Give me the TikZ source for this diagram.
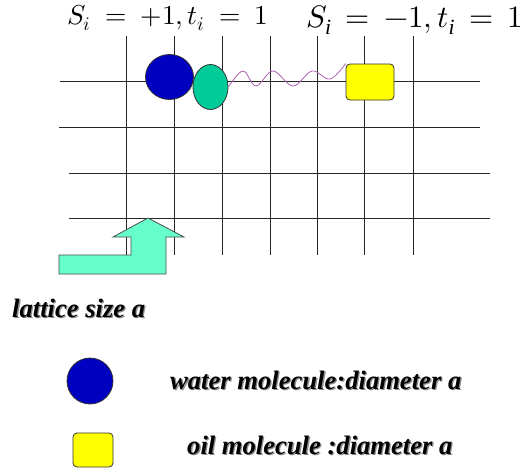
\documentclass[tikz,border=0pt]{standalone}
\usetikzlibrary{shapes.geometric}
\usepackage{fontspec}
\setmainfont{Liberation Serif}
\usepackage{unicode-math}
\setmathfont{Latin Modern Math}
\definecolor{water}{HTML}{0000C0}
\definecolor{head}{HTML}{00CC99}
\definecolor{oil}{HTML}{FFFF00}
\definecolor{arrowc}{HTML}{66FFCC}
\definecolor{wave}{HTML}{B060B0}
\tikzset{
  gridline/.style={line width=1pt, draw=black!85},
  mol/.style={draw=black!80, line width=0.8pt, inner sep=0pt},
  legtext/.style={font=\fontsize{26.6}{26.6}\selectfont\bfseries\itshape, inner sep=0pt},
  mathlab/.style={inner sep=0pt, anchor=base west},
}
\begin{document}
\begin{tikzpicture}[x=1pt,y=-1pt]
\useasboundingbox (0,0) rectangle (522,474);
% grid
\foreach \x in {126,174,222,270,317,364,413} \draw[gridline] (\x,36) -- (\x,255);
\draw[gridline] (60,81) -- (480,81);
\draw[gridline] (59,127) -- (480,127);
\draw[gridline] (69,173) -- (490,173);
\draw[gridline] (69,218) -- (490,218);
% arrow
\draw[fill=arrowc, draw=black!70, line width=0.8pt]
  (59,274) -- (166,274) -- (166,237) -- (184,237) -- (148,218) -- (113,237) -- (131,237) -- (131,255) -- (59,255) -- cycle;
% molecules
\node[mol, ellipse, fill=water, minimum width=48pt, minimum height=45pt] (w1) at (169.5,77) {};
\node[mol, ellipse, fill=head, minimum width=35pt, minimum height=45pt] (g1) at (210.5,87) {};
\node[mol, fill=oil, rounded corners=4pt, minimum width=48pt, minimum height=36pt] (o1) at (370,82) {};
\draw[wave, line width=0.8pt] plot[smooth, tension=0.6] coordinates {(g1.east) (243,71) (256,86) (273,71) (293,86) (312,71) (330,79) (o1.north west)};
% top labels
\node[mathlab, font=\fontsize{27.4}{27.4}\selectfont] (lab1) at (67,24) {\thickmuskip=9.3mu $S_i=+1,t_i=1$};
\node[mathlab, font=\fontsize{31}{31}\selectfont] (lab2) at (306,27) {\thickmuskip=8.2mu $S_{\mathit{i}}=-1,t_{\mathit{i}}=1$};
% legend
\node[legtext, anchor=west, text=black!45] at (13.3,309.3) {lattice size a};
\node[legtext, anchor=west] (lat) at (12,308) {lattice size a};
\node[mol, circle, fill=water, minimum size=46pt] (w2) at (90,381) {};
\node[mol, fill=oil, rounded corners=4pt, minimum width=40pt, minimum height=34pt] (o2) at (93,450) {};
\node[legtext, anchor=west, text=black!45] at (171.3,381.3) {water molecule:diameter a};
\node[legtext, anchor=west] (wl) at (170,380) {water molecule:diameter a};
\node[legtext, anchor=west, text=black!45] at (188.3,446.3) {oil molecule :diameter a};
\node[legtext, anchor=west] (ol) at (187,445) {oil molecule :diameter a};
\end{tikzpicture}
\end{document}
